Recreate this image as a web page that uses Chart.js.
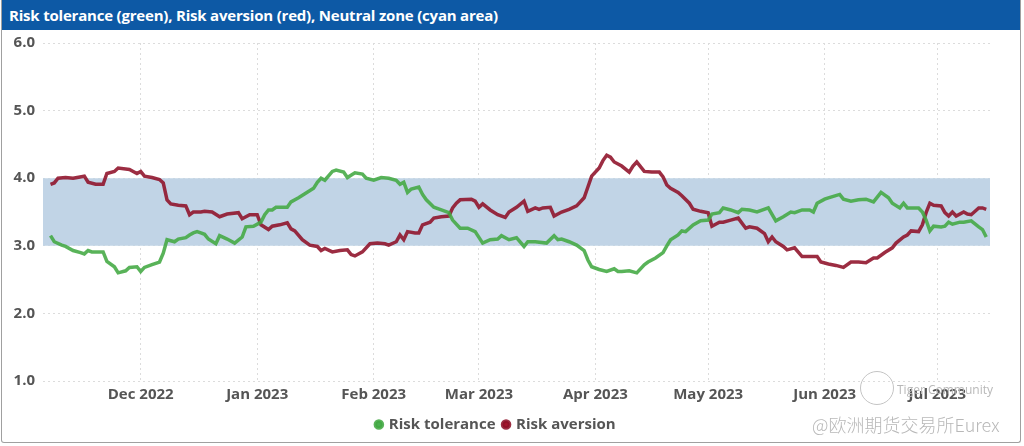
<!DOCTYPE html>
<html>
<head>
<meta charset="utf-8">
<script src="https://cdn.jsdelivr.net/npm/chart.js@4.4.0/dist/chart.umd.min.js"></script>
<style>
  html, body { margin: 0; padding: 0; background: #fff; overflow: hidden; }
  #frame {
    position: absolute; left: 1px; top: 0; width: 1020px; height: 443px;
    border: 1px solid #a0a0a0; border-top: none; box-sizing: border-box;
    border-radius: 0 0 3px 3px;
  }
  #title {
    height: 30px; background: #0d59a5; color: #fff;
    font: bold 15px 'Open Sans', sans-serif; letter-spacing: -0.2px;
    line-height: 30px; padding-left: 7px;
  }
  #wrap { position: absolute; left: 0; top: 26px; width: 1018px; height: 416px; }
  .wm { position: absolute; color: #b8b8b8; white-space: nowrap; }
  #wm1 { left: 897px; top: 381px; font: 12px 'Open Sans', sans-serif; }
  #wm2 { left: 812px; top: 411px; font: 300 18px 'Noto Sans CJK SC', sans-serif; }
  #logo { position: absolute; left: 860px; top: 371px; width: 32px; height: 32px;
          border: 1px solid #c4c4c4; border-radius: 50%; }
</style>
</head>
<body>
<div id="frame">
  <div id="title">Risk tolerance (green), Risk aversion (red), Neutral zone (cyan area)</div>
  <div id="wrap"><canvas id="chart"></canvas></div>
</div>
<div id="logo"></div>
<div class="wm" id="wm1">Tiger Community</div>
<div class="wm" id="wm2">@欧洲期货交易所Eurex</div>
<script>
// days counted from 1 Dec 2022
const dayMin = -26;
const dayMax = 226;
const monthTicks = [0, 31, 62, 90, 121, 151, 182, 212];
const monthLabels = ['Dec 2022', 'Jan 2023', 'Feb 2023', 'Mar 2023', 'Apr 2023', 'May 2023', 'Jun 2023', 'Jul 2023'];
const neutralZone = [3.0, 4.0];

const toleranceDay = [-24, -23, -21, -20, -18, -16, -15, -14, -13, -10, -9, -7, -6, -4, -3, -1, 0, 1, 3, 5,
  6, 7, 9, 10, 12, 13, 14, 15, 16, 17, 18, 20, 21, 23, 25, 27, 28, 30, 32, 33,
  34, 35, 36, 39, 40, 42, 44, 46, 47, 48, 49, 51, 52, 54, 55, 57, 59, 60, 62, 64,
  66, 68, 69, 70, 71, 72, 74, 75, 76, 78, 80, 82, 83, 85, 87, 89, 91, 93, 95, 96,
  98, 100, 102, 103, 105, 108, 110, 111, 112, 114, 116, 118, 119, 120, 122, 124, 126, 127, 128, 130,
  132, 134, 135, 137, 139, 140, 141, 143, 144, 145, 147, 149, 151, 152, 154, 155, 157, 159, 160, 162,
  164, 167, 169, 171, 173, 174, 176, 178, 179, 180, 182, 183, 186, 187, 189, 191, 193, 195, 197, 199,
  200, 202, 203, 204, 207, 208, 209, 210, 211, 213, 214, 215, 216, 218, 219, 221, 223, 224, 225];
const toleranceValue = [3.15, 3.06, 3.01, 2.99, 2.93, 2.90, 2.88, 2.93, 2.91, 2.91, 2.77, 2.69, 2.60, 2.63, 2.68, 2.69, 2.62, 2.68, 2.72, 2.76,
  2.89, 3.09, 3.06, 3.10, 3.12, 3.16, 3.19, 3.21, 3.19, 3.17, 3.10, 3.03, 3.15, 3.10, 3.04, 3.13, 3.28, 3.29, 3.35, 3.46,
  3.53, 3.53, 3.57, 3.57, 3.65, 3.71, 3.78, 3.85, 3.94, 4.00, 3.97, 4.10, 4.12, 4.09, 4.01, 4.08, 4.06, 4.00, 3.97, 4.01,
  4.00, 3.97, 3.91, 3.94, 3.79, 3.84, 3.87, 3.76, 3.68, 3.57, 3.53, 3.49, 3.38, 3.26, 3.26, 3.21, 3.04, 3.09, 3.10, 3.15,
  3.09, 3.12, 2.99, 3.06, 3.06, 3.04, 3.15, 3.09, 3.10, 3.06, 3.01, 2.93, 2.79, 2.69, 2.65, 2.62, 2.66, 2.62, 2.62, 2.63,
  2.60, 2.72, 2.76, 2.82, 2.90, 3.00, 3.09, 3.16, 3.22, 3.21, 3.31, 3.37, 3.38, 3.47, 3.49, 3.56, 3.53, 3.49, 3.54, 3.53,
  3.50, 3.56, 3.37, 3.43, 3.50, 3.49, 3.53, 3.53, 3.50, 3.63, 3.69, 3.71, 3.76, 3.69, 3.66, 3.68, 3.69, 3.65, 3.79, 3.71,
  3.63, 3.56, 3.63, 3.56, 3.56, 3.50, 3.38, 3.22, 3.29, 3.28, 3.29, 3.35, 3.32, 3.35, 3.35, 3.37, 3.28, 3.24, 3.13];

const aversionDay = [-24, -23, -22, -20, -18, -15, -14, -12, -10, -9, -7, -6, -3, -2, -1, 0, 1, 3, 5, 6,
  7, 8, 10, 12, 13, 14, 16, 17, 19, 21, 23, 26, 27, 29, 31, 32, 34, 35, 37, 39,
  40, 41, 43, 45, 47, 48, 49, 51, 53, 55, 56, 57, 59, 61, 63, 65, 66, 68, 69, 70,
  71, 73, 74, 75, 77, 78, 80, 82, 83, 84, 85, 88, 89, 90, 91, 93, 95, 97, 98, 100,
  102, 103, 105, 106, 107, 109, 110, 112, 114, 116, 118, 119, 120, 122, 123, 124, 125, 126, 128, 130,
  131, 132, 134, 136, 138, 139, 140, 141, 143, 144, 146, 147, 149, 151, 152, 154, 155, 157, 159, 161,
  162, 164, 166, 167, 168, 169, 171, 172, 174, 176, 177, 180, 181, 183, 185, 187, 189, 191, 193, 195,
  196, 198, 200, 201, 203, 204, 205, 207, 208, 209, 210, 211, 213, 214, 215, 216, 217, 219, 220, 221,
  223, 224, 225];
const aversionValue = [3.91, 3.93, 4.00, 4.01, 4.00, 4.03, 3.94, 3.91, 3.91, 4.07, 4.10, 4.15, 4.13, 4.10, 4.07, 4.10, 4.03, 4.01, 3.98, 3.93,
  3.68, 3.62, 3.60, 3.59, 3.46, 3.50, 3.50, 3.51, 3.50, 3.43, 3.47, 3.49, 3.40, 3.46, 3.46, 3.31, 3.24, 3.29, 3.31, 3.34,
  3.25, 3.22, 3.09, 3.01, 2.99, 2.93, 2.96, 2.91, 2.93, 2.94, 2.87, 2.85, 2.91, 3.03, 3.04, 3.03, 3.01, 3.06, 3.16, 3.09,
  3.21, 3.19, 3.19, 3.31, 3.35, 3.41, 3.43, 3.44, 3.56, 3.63, 3.68, 3.69, 3.66, 3.57, 3.62, 3.53, 3.46, 3.42, 3.50, 3.57,
  3.66, 3.51, 3.56, 3.54, 3.56, 3.57, 3.44, 3.50, 3.54, 3.59, 3.71, 3.87, 4.03, 4.15, 4.26, 4.34, 4.31, 4.24, 4.18, 4.09,
  4.18, 4.24, 4.10, 4.09, 4.09, 4.02, 3.90, 3.85, 3.79, 3.74, 3.63, 3.54, 3.51, 3.49, 3.29, 3.35, 3.35, 3.38, 3.41, 3.26,
  3.28, 3.26, 3.18, 3.06, 3.13, 3.06, 2.99, 2.94, 2.97, 2.84, 2.84, 2.84, 2.76, 2.73, 2.71, 2.68, 2.76, 2.76, 2.75, 2.82,
  2.82, 2.90, 2.97, 3.04, 3.13, 3.16, 3.22, 3.21, 3.31, 3.49, 3.63, 3.60, 3.59, 3.49, 3.44, 3.50, 3.44, 3.50, 3.47, 3.46,
  3.56, 3.56, 3.54];

const toPoints = (days, vals) => days.map((d, i) => ({x: d, y: vals[i]}));

const greenLine = 'rgba(66, 168, 66, 0.88)';
const redLine = 'rgba(142, 16, 40, 0.88)';
const bandColor = '#c1d4e6';
const textColor = '#555555';
const gridColor = '#dcdcdc';
const boldFont = {family: "'Open Sans', sans-serif", size: 15, weight: 'bold'};

const ctx = document.getElementById('chart').getContext('2d');
new Chart(ctx, {
    type: 'line',
    data: {
        datasets: [
            {
                label: 'Risk tolerance',
                data: toPoints(toleranceDay, toleranceValue),
                borderColor: greenLine,
                backgroundColor: '#4caf50',
                borderWidth: 3.5,
                pointRadius: 0,
                pointStyle: 'circle',
                tension: 0,
                fill: false
            },
            {
                label: 'Risk aversion',
                data: toPoints(aversionDay, aversionValue),
                borderColor: redLine,
                backgroundColor: '#a3152c',
                borderWidth: 3.5,
                pointRadius: 0,
                pointStyle: 'circle',
                tension: 0,
                fill: false
            },
            {
                label: 'zoneTop',
                data: [{x: dayMin, y: neutralZone[1]}, {x: dayMax, y: neutralZone[1]}],
                borderWidth: 0,
                pointRadius: 0,
                backgroundColor: bandColor,
                fill: '+1'
            },
            {
                label: 'zoneBottom',
                data: [{x: dayMin, y: neutralZone[0]}, {x: dayMax, y: neutralZone[0]}],
                borderWidth: 0,
                pointRadius: 0,
                backgroundColor: bandColor,
                fill: false
            }
        ]
    },
    options: {
        responsive: true,
        maintainAspectRatio: false,
        animation: false,
        layout: {padding: {top: 8, right: 30, bottom: 0, left: 0}},
        scales: {
            x: {
                type: 'linear',
                min: dayMin,
                max: dayMax,
                afterBuildTicks: (scale) => {
                    scale.ticks = monthTicks.map(v => ({value: v}));
                },
                ticks: {
                    callback: (value) => monthLabels[monthTicks.indexOf(value)],
                    color: textColor,
                    font: boldFont,
                    padding: 5,
                    maxRotation: 0,
                    autoSkip: false
                },
                grid: {color: gridColor, drawTicks: false},
                border: {display: false, dash: [2, 3]}
            },
            y: {
                min: 1,
                max: 6,
                ticks: {
                    stepSize: 1,
                    callback: (value) => value.toFixed(1),
                    color: textColor,
                    font: boldFont,
                    padding: 8
                },
                afterFit: (scale) => { scale.width = 41; },
                grid: {color: gridColor, drawTicks: false},
                border: {display: false, dash: [2, 3]}
            }
        },
        plugins: {
            tooltip: {enabled: false},
            legend: {
                position: 'bottom',
                labels: {
                    filter: (item) => item.datasetIndex < 2,
                    usePointStyle: true,
                    boxWidth: 5,
                    boxHeight: 5,
                    padding: 8,
                    color: textColor,
                    font: boldFont
                }
            }
        }
    }
});
</script>
</body>
</html>
